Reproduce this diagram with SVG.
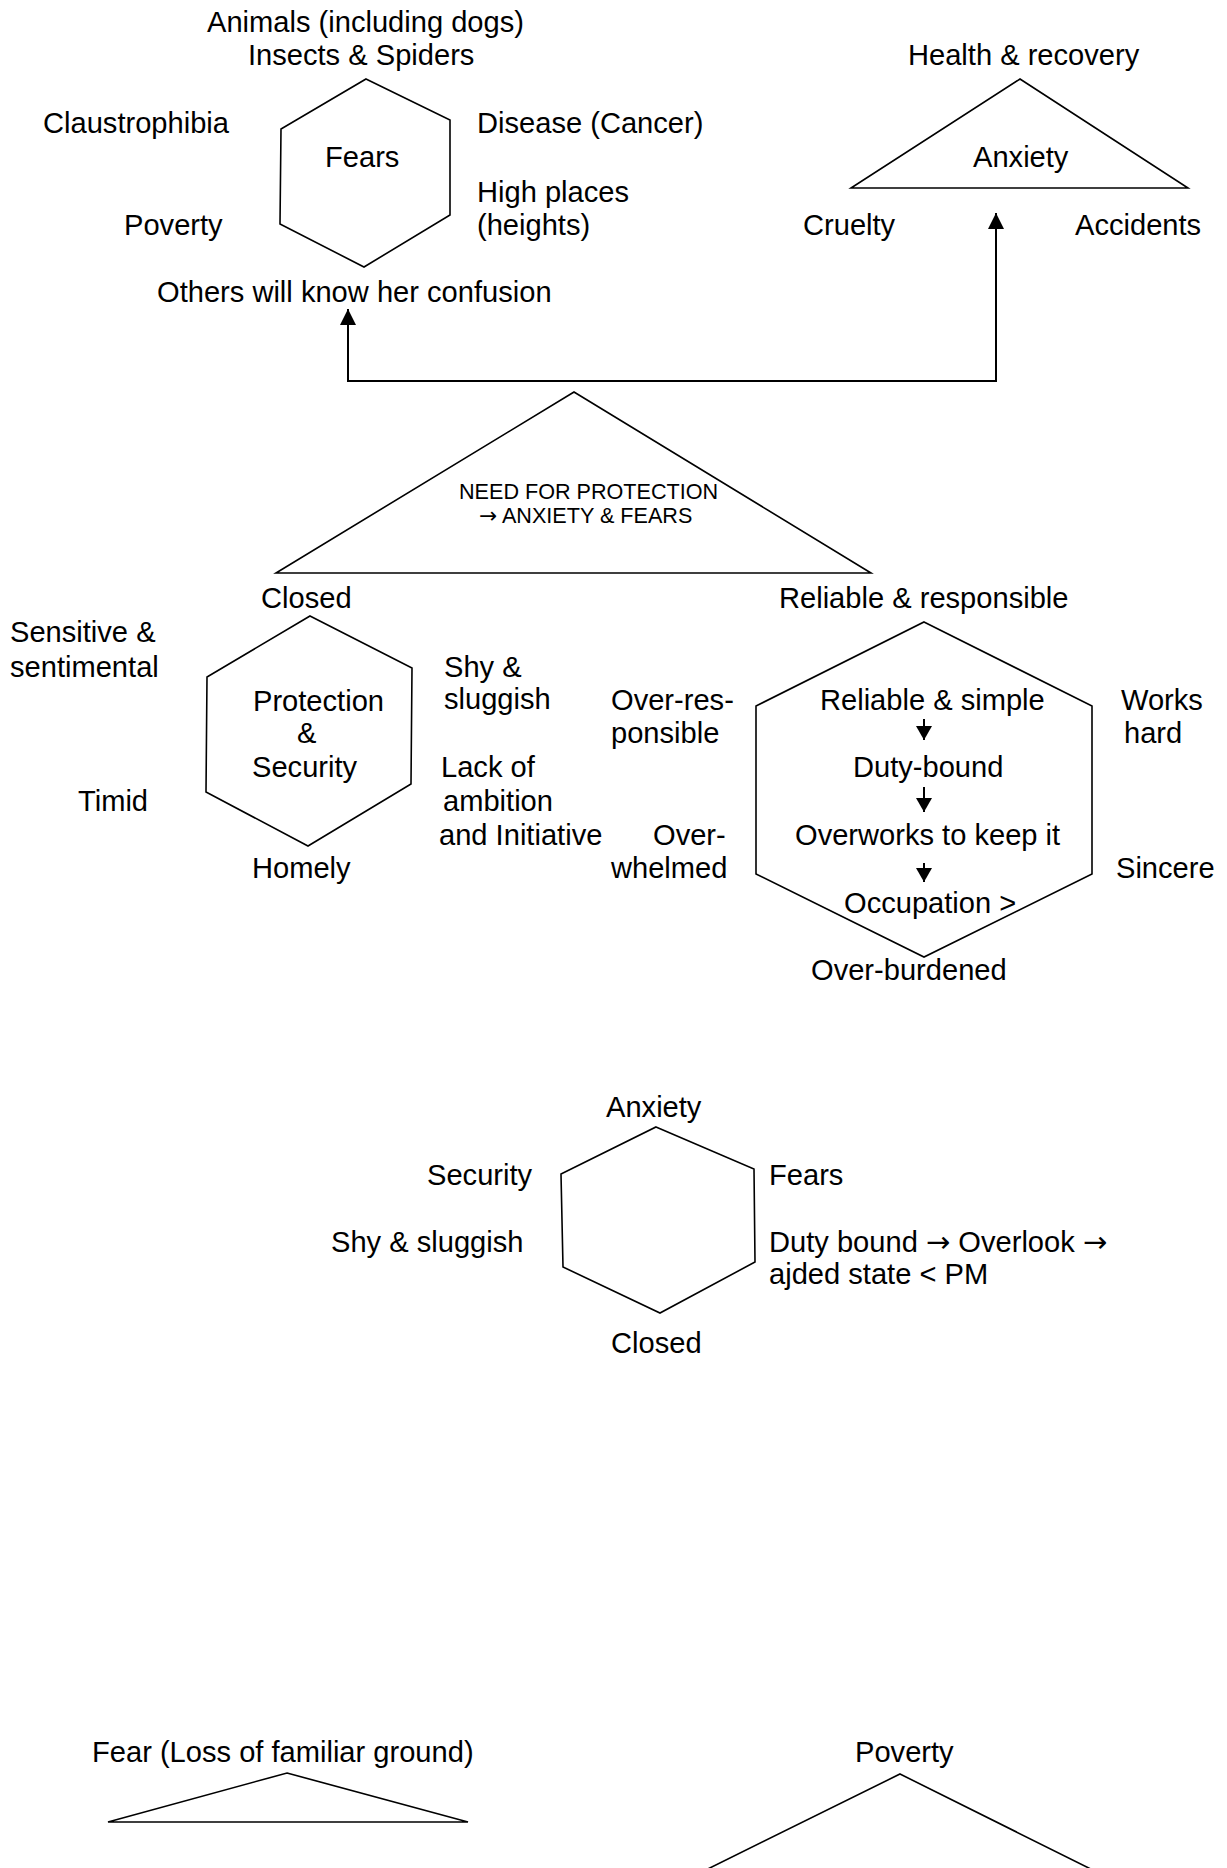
<svg xmlns="http://www.w3.org/2000/svg" width="1227" height="1868" viewBox="0 0 1227 1868">
<defs>
<style>
text{font-family:"Liberation Sans",Arial,sans-serif;font-size:29.1px;fill:#000}
.sm{font-size:21.6px}
.arr{font-family:"DejaVu Sans",sans-serif}
.shape{fill:none;stroke:#000;stroke-width:1.6;stroke-linejoin:miter}
.conn{fill:none;stroke:#000;stroke-width:2}
</style>
<marker id="ah" markerUnits="userSpaceOnUse" viewBox="0 0 16 16" refX="16" refY="8" markerWidth="16" markerHeight="16" orient="auto-start-reverse">
<path d="M0,0 L16,8 L0,16 z" fill="#000"/>
</marker>
<marker id="ahs" markerUnits="userSpaceOnUse" viewBox="0 0 14 16" refX="14" refY="8" markerWidth="14" markerHeight="16" orient="auto">
<path d="M0,0 L14,8 L0,16 z" fill="#000"/>
</marker>
</defs>
<rect width="1227" height="1868" fill="#fff"/>

<g id="fears">
<polygon class="shape" points="366,79 450,120 450,215 364,267 280,224 281,129"/>
<text x="325" y="167">Fears</text>
<text x="207" y="32">Animals (including dogs)</text>
<text x="248" y="65">Insects &amp; Spiders</text>
<text x="43" y="133">Claustrophibia</text>
<text x="477" y="133">Disease (Cancer)</text>
<text x="477" y="202">High places</text>
<text x="477" y="235">(heights)</text>
<text x="124" y="235">Poverty</text>
<text x="157" y="302">Others will know her confusion</text>
</g>

<g id="anxiety">
<polygon class="shape" points="1020,79 1188,188 851,188"/>
<text x="973" y="167">Anxiety</text>
<text x="908" y="65">Health &amp; recovery</text>
<text x="803" y="235">Cruelty</text>
<text x="1075" y="235">Accidents</text>
</g>

<g id="need">
<polygon class="shape" points="574,392 871,573 276,573"/>
<text class="sm" x="459" y="499">NEED FOR PROTECTION</text>
<text class="sm" x="479" y="523"><tspan class="arr">→</tspan> ANXIETY &amp; FEARS</text>
</g>

<g id="protection">
<polygon class="shape" points="310,616 412,668 411,784 308,846 206,792 207,677"/>
<text x="253" y="711">Protection</text>
<text x="297" y="743">&amp;</text>
<text x="252" y="777">Security</text>
<text x="261" y="608">Closed</text>
<text x="10" y="642">Sensitive &amp;</text>
<text x="10" y="677">sentimental</text>
<text x="78" y="811">Timid</text>
<text x="252" y="878">Homely</text>
<text x="444" y="677">Shy &amp;</text>
<text x="444" y="709">sluggish</text>
<text x="441" y="777">Lack of</text>
<text x="443" y="811">ambition</text>
<text x="439" y="845">and Initiative</text>
</g>

<g id="reliable">
<polygon class="shape" points="924,622 1092,706 1092,874 924,957 756,874 756,706"/>
<text x="779" y="608">Reliable &amp; responsible</text>
<text x="820" y="710">Reliable &amp; simple</text>
<text x="853" y="777">Duty-bound</text>
<text x="795" y="845">Overworks to keep it</text>
<text x="844" y="913">Occupation &gt;</text>
<text x="811" y="980">Over-burdened</text>
<text x="611" y="710">Over-res-</text>
<text x="611" y="743">ponsible</text>
<text x="653" y="845">Over-</text>
<text x="611" y="878">whelmed</text>
<text x="1121" y="710">Works</text>
<text x="1124" y="743">hard</text>
<text x="1116" y="878">Sincere</text>
</g>

<g id="hex3">
<polygon class="shape" points="656,1127 754,1169 755,1262 660,1313 563,1267 561,1174"/>
<text x="606" y="1117">Anxiety</text>
<text x="427" y="1185">Security</text>
<text x="769" y="1185">Fears</text>
<text x="331" y="1252">Shy &amp; sluggish</text>
<text x="769" y="1252">Duty bound <tspan class="arr">→</tspan> Overlook <tspan class="arr">→</tspan></text>
<text x="769" y="1284">ajded state &lt; PM</text>
<text x="611" y="1353">Closed</text>
</g>

<g id="fear-loss">
<polygon class="shape" points="287,1773 468,1822 108,1822"/>
<text x="92" y="1762">Fear (Loss of familiar ground)</text>
</g>

<g id="poverty">
<polygon class="shape" points="900,1774 1153,1900 645,1900"/>
<text x="855" y="1762">Poverty</text>
</g>

<g id="connectors">
<path class="conn" d="M348,309 V381 H996 V213" marker-start="url(#ah)" marker-end="url(#ah)"/>
<path class="conn" d="M924,719 V740" marker-end="url(#ahs)"/>
<path class="conn" d="M924,787 V812" marker-end="url(#ahs)"/>
<path class="conn" d="M924,863 V882" marker-end="url(#ahs)"/>
</g>
</svg>
